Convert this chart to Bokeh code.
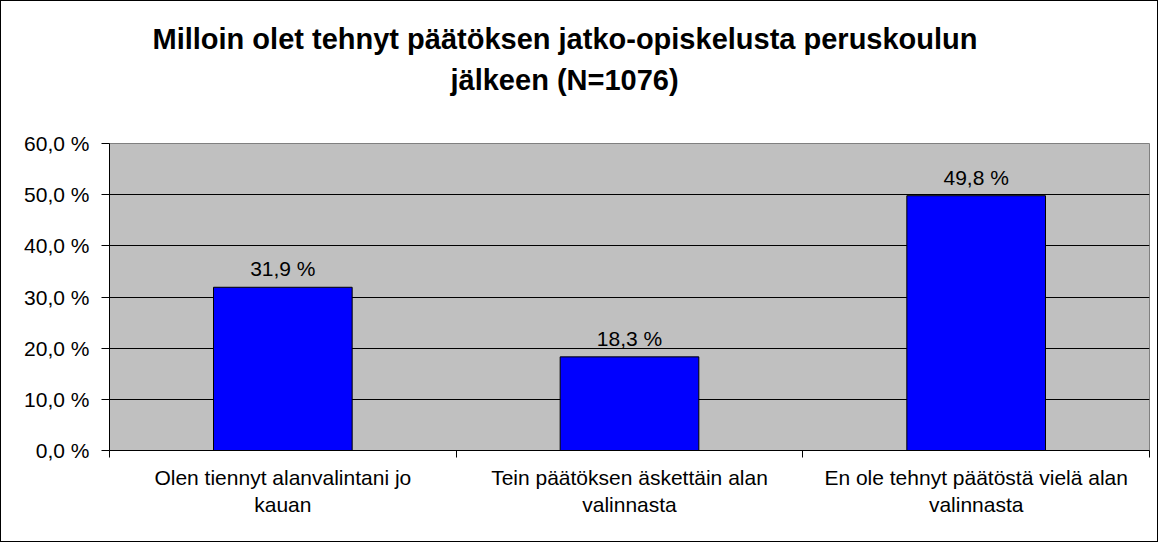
from bokeh.plotting import figure
from bokeh.models import FixedTicker, Range1d, ColumnDataSource, LabelSet, Title
from bokeh.core.properties import value
from bokeh.embed import file_html
from bokeh.resources import INLINE

title_lines = ["Milloin olet tehnyt päätöksen jatko-opiskelusta peruskoulun",
               "jälkeen (N=1076)"]
categories = ["Olen tiennyt alanvalintani jo\nkauan",
              "Tein päätöksen äskettäin alan\nvalinnasta",
              "En ole tehnyt päätöstä vielä alan\nvalinnasta"]
values = [31.9, 18.3, 49.8]
y_ticks = [0, 10, 20, 30, 40, 50, 60]

FONT = "Liberation Sans"

n = len(categories)
xs = [i + 0.5 for i in range(n)]
src = ColumnDataSource(dict(
    x=xs, top=values,
    label=[f"{v:.1f} %".replace(".", ",") for v in values],
))

p = figure(width=1158, height=542, output_backend="svg", toolbar_location=None,
           x_range=Range1d(0, n), y_range=Range1d(0, 60),
           min_border_left=108, min_border_right=10, min_border_top=142,
           min_border_bottom=93)
p.styles = {"border": "1px solid black"}
p.background_fill_color = "#C0C0C0"
p.border_fill_color = "white"
p.outline_line_color = "#808080"
p.outline_line_width = 1

p.vbar(x="x", top="top", width=0.4, bottom=0, source=src,
       fill_color="#0000FF", line_color="black", line_width=1)

labels = LabelSet(x="x", y="top", text="label", source=src, y_offset=11,
                  text_align="center", text_baseline="alphabetic",
                  text_font=value(FONT), text_font_size=value("21px"),
                  text_color="black")
p.add_layout(labels)

# x axis
p.xaxis.ticker = FixedTicker(ticks=xs, minor_ticks=list(range(n + 1)))
p.xaxis.major_label_overrides = {x: c for x, c in zip(xs, categories)}
p.xaxis.major_tick_out = 0
p.xaxis.major_tick_in = 0
p.xaxis.minor_tick_out = 7
p.xaxis.minor_tick_in = 0
p.xaxis.minor_tick_line_color = "black"
p.xaxis.axis_line_color = "black"
p.xaxis.major_label_standoff = 8
p.xaxis.major_label_text_font = FONT
p.xaxis.major_label_text_font_size = "21px"
p.xaxis.major_label_text_color = "black"
p.xaxis.major_label_text_align = "center"

# y axis
p.yaxis.ticker = FixedTicker(ticks=y_ticks)
p.yaxis.major_label_overrides = {t: f"{t:.1f} %".replace(".", ",") for t in y_ticks}
p.yaxis.major_tick_out = 8
p.yaxis.major_tick_in = 0
p.yaxis.minor_tick_out = 0
p.yaxis.minor_tick_in = 0
p.yaxis.axis_line_color = "black"
p.yaxis.major_tick_line_color = "black"
p.yaxis.major_label_standoff = 12
p.yaxis.major_label_text_font = FONT
p.yaxis.major_label_text_font_size = "21px"
p.yaxis.major_label_text_color = "black"

p.xgrid.visible = False
p.ygrid.ticker = FixedTicker(ticks=y_ticks[1:-1])
p.ygrid.grid_line_color = "black"
p.ygrid.grid_line_width = 1
p.ygrid.grid_line_alpha = 1

# titles: second line first (closest to the plot), then the first line
p.add_layout(Title(text=title_lines[1], align="left", offset=341, standoff=95,
                   text_font=FONT, text_font_size="29px", text_font_style="bold",
                   text_color="black"), "above")
p.add_layout(Title(text=title_lines[0], align="left", offset=43, standoff=-81,
                   text_font=FONT, text_font_size="29px", text_font_style="bold",
                   text_color="black"), "above")

open("out.html", "w").write(file_html(p, INLINE))
